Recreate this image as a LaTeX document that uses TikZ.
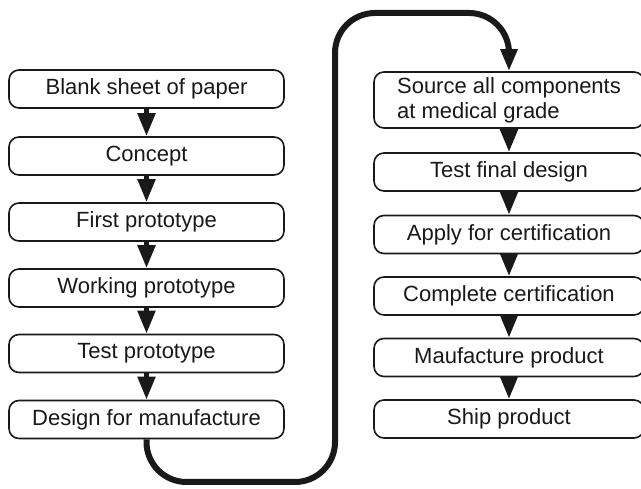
\documentclass[tikz,border=0pt]{standalone}
\usepackage{fontspec}
\setmainfont{Liberation Sans}
\usetikzlibrary{arrows.meta}
\begin{document}
\begin{tikzpicture}[x=1pt,y=-1pt,
  stagebox/.style={draw=black!90, line width=1.6pt, rounded corners=10pt, fill=white,
    minimum height=38pt, inner sep=0pt, align=center,
    font=\fontsize{22}{25}\selectfont, text=black!90},
  leftbox/.style={stagebox, minimum width=275pt},
  rightbox/.style={stagebox, minimum width=270pt},
  arr/.style={line width=5pt, draw=black!90, -{Triangle[width=17pt,length=23pt]}},
  bigloop/.style={line width=6pt, draw=black!90, rounded corners=40pt,
    -{Triangle[width=16pt,length=22pt]}}
]
\path[use as bounding box, clip] (0,0) rectangle (641,489);

\node[leftbox] (l1) at (146.5,89) {Blank sheet of paper};
\node[leftbox] (l2) at (146.5,156) {Concept};
\node[leftbox] (l3) at (146.5,222) {First prototype};
\node[leftbox] (l4) at (146.5,288) {Working prototype};
\node[leftbox] (l5) at (146.5,353.5) {Test prototype};
\node[leftbox] (l6) at (146.5,419.5) {Design for manufacture};

\node[rightbox, minimum height=56pt, align=left] (r1) at (509,100) {Source all components\\at medical grade};
\node[rightbox] (r2) at (509,172) {Test final design};
\node[rightbox] (r3) at (509,234.5) {Apply for certification};
\node[rightbox] (r4) at (509,296) {Complete certification};
\node[rightbox] (r5) at (509,357.5) {Maufacture product};
\node[rightbox] (r6) at (509,419) {Ship product};

\draw[arr] (l1) -- (l2);
\draw[arr] (l2) -- (l3);
\draw[arr] (l3) -- (l4);
\draw[arr] (l4) -- (l5);
\draw[arr] (l5) -- (l6);

\draw[arr] (r1) -- (r2);
\draw[arr] (r2) -- (r3);
\draw[arr] (r3) -- (r4);
\draw[arr] (r4) -- (r5);
\draw[arr] (r5) -- (r6);

\coordinate (c1) at (146.5,482);
\coordinate (c2) at (335,482);
\coordinate (c3) at (335,13);
\coordinate (c4) at (509,13);
\draw[bigloop] (l6.south) -- (c1) -- (c2) -- (c3) -- (c4) -- (r1.north);
\end{tikzpicture}
\end{document}
